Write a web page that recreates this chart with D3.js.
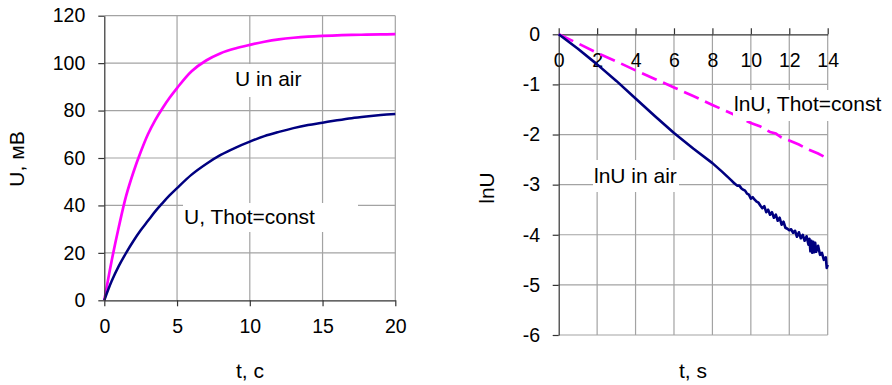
<!DOCTYPE html>
<html><head><meta charset="utf-8">
<script src="https://cdn.jsdelivr.net/npm/d3@7"></script>
<style>
html,body{margin:0;padding:0;background:#fff;}
text{font-family:"Liberation Sans",Arial,sans-serif;fill:#000;}
</style></head>
<body>
<svg id="c" width="892" height="385"></svg>
<script>
// ---- Left chart data: U (mV) vs t (c)
const tLeft = [0,0.5,1,1.5,2,2.5,3,3.5,4,4.5,5,6,7,8,9,10,11,12,13,14,15,16,17,18,19,20];
const uAir  = [0,16.5,31,44,54,62.5,70,76,81,85.5,89.5,96.6,101.1,104.2,106.2,107.7,109,110,110.7,111.2,111.5,111.7,111.9,112,112.1,112.2];
const uConst= [0,8,14.5,20,25,29.5,33.5,37.5,41,44.3,47.3,53,57.5,61.3,64.3,66.9,69.2,71,72.6,73.9,74.9,75.9,76.8,77.5,78.1,78.6];
const leftXTicks = [0,5,10,15,20];
const leftYTicks = [0,20,40,60,80,100,120];

// ---- Right chart data: lnU vs t (s)
const tAirLn = [0,1,2,3,4,5,6,7,8,8.5,
  9.0,9.1,9.2,9.3,9.4,9.5,9.6,9.7,9.8,9.9,
  10.0,10.1,10.2,10.3,10.4,10.5,10.6,10.7,10.8,10.9,
  11.0,11.1,11.2,11.3,11.4,11.5,11.6,11.7,11.8,11.9,
  12.0,12.1,12.2,12.3,12.4,12.5,12.6,12.7,12.8,12.9,
  13.0,13.05,13.1,13.15,13.2,13.25,13.3,13.35,13.4,13.5,13.6,13.7,13.8,13.9,13.95,14.0];
const lnAir = [0,-0.29,-0.6,-0.93,-1.28,-1.63,-1.97,-2.28,-2.57,-2.74,
  -2.92,-2.96,-2.99,-3.02,-3.02,-3.07,-3.10,-3.12,-3.18,-3.20,
  -3.28,-3.25,-3.30,-3.34,-3.36,-3.42,-3.47,-3.43,-3.55,-3.50,
  -3.60,-3.55,-3.66,-3.60,-3.72,-3.66,-3.80,-3.74,-3.86,-3.88,
  -3.91,-3.89,-3.96,-3.92,-4.04,-3.95,-4.07,-4.00,-4.12,-4.03,
  -4.20,-4.08,-4.33,-4.12,-4.36,-4.14,-4.35,-4.16,-4.34,-4.22,-4.40,-4.36,-4.50,-4.45,-4.66,-4.60];
const tConstLn = [0,1,2,3,4,5,6,7,8,9,10,10.5,11,11.3,11.6,12,12.5,13,13.5,14];
const lnConst  = [0,-0.18,-0.37,-0.54,-0.72,-0.89,-1.06,-1.23,-1.41,-1.58,-1.77,-1.84,-1.95,-1.98,-2.06,-2.12,-2.2,-2.3,-2.38,-2.48];
const rightXTicks = [0,2,4,6,8,10,12,14];
const rightYTicks = [-6,-5,-4,-3,-2,-1,0];

const svg = d3.select("#c");
const GRID = "#a3a3a3", AXIS = "#333";
const MAG = "#ff00ff", NAVY = "#000080";
const fmt = d => String(d);

function label(g, x, y, w, h, tx, ty, txt){
  g.append("rect").attr("x",x).attr("y",y).attr("width",w).attr("height",h).attr("fill","#fff");
  g.append("text").attr("x",tx).attr("y",ty).attr("font-size",21).text(txt);
}

// ================= LEFT =================
{
  const x = d3.scaleLinear().domain([0,20]).range([104.3,395.3]);
  const y = d3.scaleLinear().domain([0,120]).range([300.3,15.7]);
  const g = svg.append("g");
  g.append("g").selectAll("line").data(leftXTicks.slice(1)).join("line")
    .attr("x1",d=>x(d)).attr("x2",d=>x(d)).attr("y1",y(0)).attr("y2",y(120))
    .attr("stroke",GRID).attr("stroke-width",1.2);
  g.append("g").selectAll("line").data(leftYTicks.slice(1)).join("line")
    .attr("y1",d=>y(d)).attr("y2",d=>y(d)).attr("x1",x(0)).attr("x2",x(20))
    .attr("stroke",GRID).attr("stroke-width",1.2);
  const line1 = d3.line().x((d,i)=>x(tLeft[i])).y(d=>y(d)).curve(d3.curveCatmullRom.alpha(0.5));
  g.append("path").attr("d",line1(uAir)).attr("fill","none").attr("stroke",MAG).attr("stroke-width",2.7);
  g.append("path").attr("d",line1(uConst)).attr("fill","none").attr("stroke",NAVY).attr("stroke-width",2.5);
  label(g, 231, 64, 80, 33, 235, 86, "U in air");
  label(g, 183, 203, 175, 29, 184, 224, "U, Thot=const");
  const ax = g.append("g").attr("transform",`translate(0,${y(0)})`)
    .call(d3.axisBottom(x).tickValues(leftXTicks).tickFormat(fmt).tickSize(6).tickSizeOuter(0).tickPadding(12.7));
  const ay = g.append("g").attr("transform",`translate(${x(0)},0)`)
    .call(d3.axisLeft(y).tickValues(leftYTicks).tickFormat(fmt).tickSize(6).tickSizeOuter(0).tickPadding(13));
  [ax,ay].forEach(a=>{
    a.selectAll("path,line").attr("stroke",AXIS).attr("stroke-width",1.2);
    a.selectAll("text").attr("font-size",19.5).attr("font-family",'"Liberation Sans",Arial,sans-serif').attr("fill","#000");
  });
  g.append("text").attr("x",250).attr("y",378).attr("text-anchor","middle").attr("font-size",21).text("t, c");
  g.append("text").attr("transform","translate(24,159) rotate(-90)").attr("text-anchor","middle").attr("font-size",21).text("U, мВ");
}

// ================= RIGHT =================
{
  const x = d3.scaleLinear().domain([0,14]).range([558.7,827.7]);
  const y = d3.scaleLinear().domain([-6,0]).range([335,34.3]);
  const g = svg.append("g");
  g.append("g").selectAll("line").data(rightXTicks.slice(1)).join("line")
    .attr("x1",d=>x(d)).attr("x2",d=>x(d)).attr("y1",y(0)).attr("y2",y(-6))
    .attr("stroke",GRID).attr("stroke-width",1.2);
  g.append("g").selectAll("line").data(rightYTicks.slice(0,-1)).join("line")
    .attr("y1",d=>y(d)).attr("y2",d=>y(d)).attr("x1",x(0)).attr("x2",x(14))
    .attr("stroke",GRID).attr("stroke-width",1.2);
  const ax = g.append("g").attr("transform",`translate(0,${y(0)})`)
    .call(d3.axisBottom(x).tickValues(rightXTicks).tickFormat(fmt).tickSize(-6).tickSizeOuter(0).tickPadding(18.7));
  const ay = g.append("g").attr("transform",`translate(${x(0)},0)`)
    .call(d3.axisLeft(y).tickValues(rightYTicks).tickFormat(fmt).tickSize(6).tickSizeOuter(0).tickPadding(12.7));
  [ax,ay].forEach(a=>{
    a.selectAll("path,line").attr("stroke",AXIS).attr("stroke-width",1.2);
    a.selectAll("text").attr("font-size",19.5).attr("font-family",'"Liberation Sans",Arial,sans-serif').attr("fill","#000");
  });
  const lA = d3.line().x((d,i)=>x(tAirLn[i])).y(d=>y(d));
  const lC = d3.line().x((d,i)=>x(tConstLn[i])).y(d=>y(d));
  g.append("path").attr("d",lC(lnConst)).attr("fill","none").attr("stroke",MAG).attr("stroke-width",2.7)
    .attr("stroke-dasharray","16,7");
  g.append("path").attr("d",lA(lnAir)).attr("fill","none").attr("stroke",NAVY).attr("stroke-width",2.6)
    .attr("stroke-linejoin","round");
  label(g, 733, 90, 159, 31, 734, 111, "lnU, Thot=const");
  label(g, 593, 160, 86, 32, 594, 183, "lnU in air");
  g.append("text").attr("x",693).attr("y",378).attr("text-anchor","middle").attr("font-size",21).text("t, s");
  g.append("text").attr("transform","translate(494,188) rotate(-90)").attr("text-anchor","middle").attr("font-size",21).text("lnU");
}
</script>
</body></html>
